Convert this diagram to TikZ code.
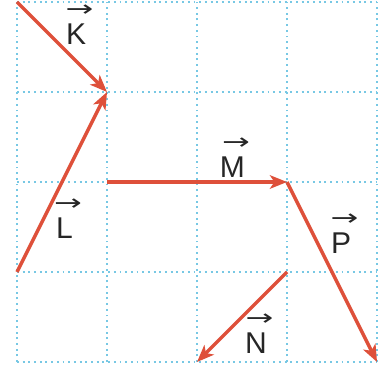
\documentclass[tikz,border=0pt]{standalone}
\usepackage{fontspec}
\setmainfont{Liberation Sans}
\newfontfamily\symfont{DejaVu Sans}
\usetikzlibrary{arrows.meta,positioning}
\definecolor{gridblue}{RGB}{120,200,228}
\definecolor{vecred}{RGB}{222,80,58}
\newcommand{\widearrow}{\scalebox{1.5}[1]{→}}
\tikzset{
  gridline/.style={gridblue, line width=0.7pt, dash pattern=on 0.6pt off 1.2pt},
  vec/.style={vecred, line width=1.1pt, -{Stealth[length=1.9mm, width=1.5mm, inset=0.5mm]}},
  lbl/.style={font=\fontsize{9.5}{10}\selectfont, text=black!85, inner sep=0pt},
  arr/.style={font=\symfont\fontsize{7}{8}\selectfont, text=black!85, inner sep=0pt, xshift=0.4mm}
}
\begin{document}
\begin{tikzpicture}
\useasboundingbox (-0.189,-0.111) rectangle (4.011,4.022);
\draw[gridline] (0,0) grid (4,4);
\coordinate (k0) at (0,4);
\coordinate (k1) at (1,3);
\coordinate (l0) at (0,1);
\coordinate (m0) at (1,2);
\coordinate (m1) at (3,2);
\coordinate (p1) at (4,0);
\coordinate (n0) at (3,1);
\coordinate (n1) at (2,0);
\draw[vec] (k0) -- (k1);
\draw[vec] (l0) -- (k1);
\draw[vec] (m0) -- (m1);
\draw[vec] (m1) -- (p1);
\draw[vec] (n0) -- (n1);
\node[lbl] (kl) at (0.656,3.644) {K};
\node[lbl] (ll) at (0.528,1.489) {L};
\node[lbl] (ml) at (2.394,2.167) {M};
\node[lbl] (pl) at (3.6,1.322) {P};
\node[lbl] (nl) at (2.656,0.206) {N};
\node[arr, above=0.7mm of kl] (ka) {\widearrow};
\node[arr, above=0.7mm of ll] (la) {\widearrow};
\node[arr, above=0.7mm of ml] (ma) {\widearrow};
\node[arr, above=0.7mm of pl] (pa) {\widearrow};
\node[arr, above=0.7mm of nl] (na) {\widearrow};
\end{tikzpicture}
\end{document}
